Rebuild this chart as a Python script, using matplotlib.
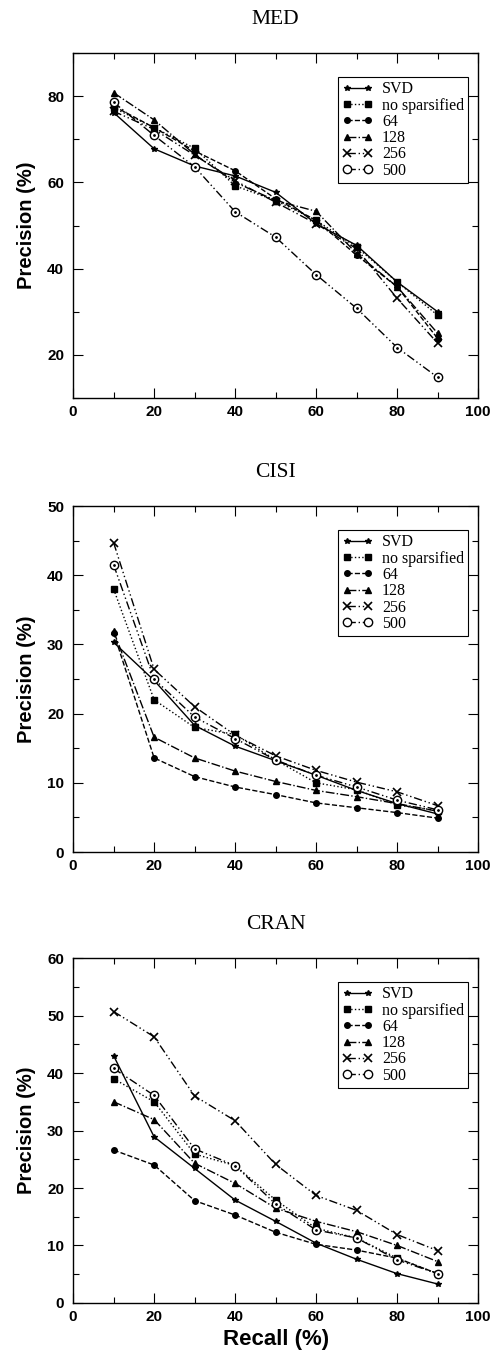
"""Precision vs. recall for MED, CISI and CRAN, stacked in one column."""

import matplotlib

matplotlib.use("Agg")
import matplotlib.pyplot as plt  # noqa: E402
from matplotlib.ticker import MultipleLocator  # noqa: E402

# ----------------------------------------------------------------------------
# Data
# ----------------------------------------------------------------------------
RECALL = [10, 20, 30, 40, 50, 60, 70, 80, 90]
SERIES = ["SVD", "no sparsified", "64", "128", "256", "500"]

MED_SVD = [76.2, 67.8, 63.8, 61.5, 57.7, 50.4, 45.4, 36.9, 30.0]
MED_NOSP = [77.3, 72.7, 67.9, 59.2, 55.8, 51.2, 45.0, 36.9, 29.2]
MED_64 = [77.7, 72.7, 67.3, 62.7, 56.2, 51.2, 43.1, 35.8, 23.8]
MED_128 = [80.8, 74.5, 66.5, 60.0, 55.8, 53.3, 43.5, 35.8, 25.0]
MED_256 = [76.5, 72.3, 66.3, 60.4, 55.4, 50.4, 44.6, 33.1, 22.7]
MED_500 = [78.6, 70.9, 63.6, 53.2, 47.3, 38.6, 30.8, 21.7, 14.8]

CISI_SVD = [30.3, 24.8, 18.3, 15.3, 13.2, 11.1, 8.9, 7.0, 5.5]
CISI_NOSP = [38.0, 22.0, 18.0, 17.0, 13.3, 10.0, 9.0, 6.8, 6.0]
CISI_64 = [31.7, 13.6, 10.9, 9.4, 8.3, 7.1, 6.4, 5.7, 4.9]
CISI_128 = [31.9, 16.6, 13.6, 11.7, 10.2, 8.9, 8.0, 7.0, 5.9]
CISI_256 = [44.7, 26.4, 21.0, 16.9, 13.9, 11.8, 10.1, 8.7, 6.7]
CISI_500 = [41.5, 25.0, 19.5, 16.4, 13.3, 11.1, 9.4, 7.5, 6.1]

CRAN_SVD = [43.0, 28.9, 23.4, 17.9, 14.2, 10.4, 7.6, 5.1, 3.3]
CRAN_NOSP = [39.0, 35.0, 25.9, 23.9, 17.9, 13.0, 11.3, 7.8, 5.1]
CRAN_64 = [26.6, 24.0, 17.8, 15.3, 12.3, 10.2, 9.2, 7.8, 5.1]
CRAN_128 = [35.0, 31.9, 24.3, 20.8, 16.5, 14.2, 12.4, 10.0, 7.2]
CRAN_256 = [50.7, 46.3, 36.0, 31.7, 24.1, 18.7, 16.1, 11.9, 9.1]
CRAN_500 = [40.8, 36.1, 26.8, 23.9, 17.2, 12.7, 11.3, 7.5, 5.1]

PANELS = [
    ("MED", [MED_SVD, MED_NOSP, MED_64, MED_128, MED_256, MED_500], (10, 90), 20, 10),
    ("CISI", [CISI_SVD, CISI_NOSP, CISI_64, CISI_128, CISI_256, CISI_500], (0, 50), 10, 5),
    ("CRAN", [CRAN_SVD, CRAN_NOSP, CRAN_64, CRAN_128, CRAN_256, CRAN_500], (0, 60), 10, 5),
]

# ----------------------------------------------------------------------------
# Styles
# ----------------------------------------------------------------------------
DASHDOTDOT = (0, (6, 2, 1, 2, 1, 2))
STYLES = [
    dict(ls="-", marker="*", ms=4, mfc="black"),
    dict(ls=":", marker="s", ms=4, mfc="black"),
    dict(ls="--", marker="o", ms=4, mfc="black"),
    dict(ls="-.", marker="^", ms=5, mfc="black"),
    dict(ls=DASHDOTDOT, marker="x", ms=6, mew=1.2, mfc="black"),
    dict(ls=DASHDOTDOT, marker="o", ms=6, mfc="white"),
]

SERIF = "Liberation Serif"
SANS = "Liberation Sans"

fig = plt.figure(figsize=(4.94, 13.57), dpi=100)
BOXES = [
    (0.148, 0.7067, 0.820, 0.2542),
    (0.148, 0.3721, 0.820, 0.2550),
    (0.148, 0.0398, 0.820, 0.2542),
]

for (title, ys, ylim, ymaj, ymin), box in zip(PANELS, BOXES):
    ax = fig.add_axes(box)
    for name, y, st in zip(SERIES, ys, STYLES):
        ax.plot(RECALL, y, color="black", lw=1.0, mec="black", label=name, **st)
    # centre dot of the 500 markers
    ax.plot(RECALL, ys[-1], ls="none", marker=".", ms=2, color="black")

    ax.set_xlim(0, 100)
    ax.set_ylim(*ylim)
    ax.xaxis.set_major_locator(MultipleLocator(20))
    ax.xaxis.set_minor_locator(MultipleLocator(10))
    ax.yaxis.set_major_locator(MultipleLocator(ymaj))
    ax.yaxis.set_minor_locator(MultipleLocator(ymin))
    ax.tick_params(which="both", direction="in", top=True, right=True, width=0.8)
    ax.tick_params(which="major", length=7, labelsize=11)
    ax.tick_params(axis="y", which="major", pad=6.5)
    ax.tick_params(axis="x", which="major", pad=5)
    ax.tick_params(which="minor", length=4.5)
    for lab in ax.get_xticklabels() + ax.get_yticklabels():
        lab.set_fontfamily(SANS)
        lab.set_fontweight("bold")
    for sp in ax.spines.values():
        sp.set_linewidth(1.0)

    ax.set_title(title, fontfamily=SERIF, fontsize=15.5, pad=21)
    ax.set_ylabel("Precision (%)", fontfamily=SANS, fontweight="bold", fontsize=14.5, labelpad=8)

    leg = ax.legend(
        loc="upper right",
        bbox_to_anchor=(0.975, 0.93),
        prop={"family": SERIF, "size": 11.5},
        numpoints=2,
        handlelength=1.9,
        handletextpad=0.6,
        labelspacing=0.02,
        borderpad=0.25,
        borderaxespad=0.0,
        fancybox=False,
        framealpha=1,
        edgecolor="black",
    )
    leg.get_frame().set_linewidth(0.8)

ax.set_xlabel("Recall (%)", fontfamily=SANS, fontweight="bold", fontsize=16, labelpad=4)

fig.savefig("out.png", dpi=100)
plt.close(fig)
